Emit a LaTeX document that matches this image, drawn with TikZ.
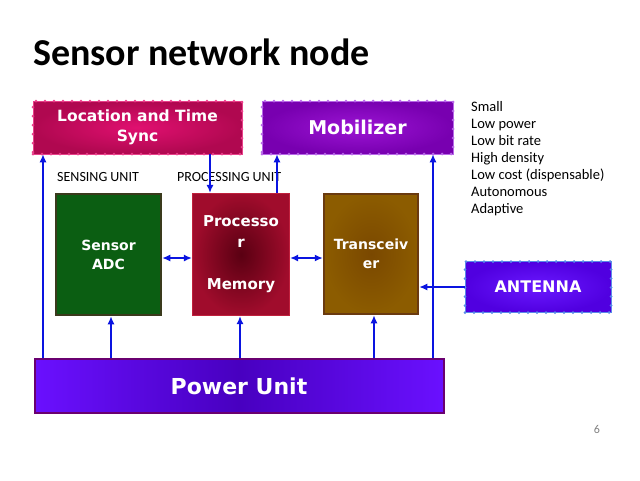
\documentclass[tikz,border=0pt]{standalone}
\usepackage{fontspec}
\setmainfont{Carlito}
\newfontfamily\boxfont{DejaVu Sans}
\usetikzlibrary{arrows.meta,calc,positioning}

\definecolor{locout}{HTML}{B00850}
\definecolor{locin}{HTML}{E01070}
\definecolor{locdot}{HTML}{E8408A}
\definecolor{mobout}{HTML}{7800B0}
\definecolor{mobin}{HTML}{9C14D4}
\definecolor{mobdot}{HTML}{B868E8}
\definecolor{sensfill}{HTML}{0B5E12}
\definecolor{sensrim}{HTML}{3A3A1C}
\definecolor{procout}{HTML}{A00C2C}
\definecolor{procin}{HTML}{5A0012}
\definecolor{procrim}{HTML}{C0203C}
\definecolor{trout}{HTML}{8C5C00}
\definecolor{trin}{HTML}{7A4800}
\definecolor{trrim}{HTML}{6A3A10}
\definecolor{antout}{HTML}{5000E0}
\definecolor{antin}{HTML}{6A18FF}
\definecolor{antdot}{HTML}{5A8AE8}
\definecolor{pwrside}{HTML}{6A10FF}
\definecolor{pwrmid}{HTML}{4800C0}
\definecolor{pwrrim}{HTML}{6A0070}
\definecolor{wire}{HTML}{0A14E0}

\newcommand{\bxf}[2]{\boxfont\bfseries\fontsize{#1}{#2}\selectfont}

\begin{document}
\begin{tikzpicture}[x=1pt,y=-1pt,>={Latex[length=8pt,width=7pt]},
    blk/.style={text=white, align=center, inner sep=0pt},
    dotbox/.style={blk, draw=#1, line width=0.6pt,
      postaction={draw=#1, line width=3pt, line cap=round, dash pattern=on 0pt off 9pt}},
    link/.style={wire, line width=1.4pt}]
        \useasboundingbox (0,0) rectangle (640,480);
        % Judul dan daftar sifat
        \node[anchor=base west, inner sep=0pt, font=\bfseries\fontsize{38}{44}\selectfont] (title) at (33,65) {Sensor network node};
        \node[anchor=north west, align=left, inner sep=0pt, font=\fontsize{14.5}{17}\selectfont] (feat) at (471,101.5)
          {Small\\Low power\\Low bit rate\\High density\\Low cost (dispensable)\\Autonomous\\Adaptive};
        \node[anchor=base west, inner sep=0pt, font=\fontsize{14}{16}\selectfont] (sensing) at (57,181.5) {SENSING UNIT};
        \node[anchor=base west, inner sep=0pt, font=\fontsize{14}{16}\selectfont] (processing) at (177,181.5) {PROCESSING UNIT};
        \node[gray, font=\fontsize{12}{14}\selectfont] (pg) at (597,429) {6};
        % Blok atas
        \node[dotbox=locdot, inner color=locin, outer color=locout, minimum width=209pt, minimum height=53pt,
          font=\bxf{15.5}{20}] (loc) at (137.5,127.5) {Location and Time\\Sync};
        \node[dotbox=mobdot, inner color=mobin, outer color=mobout, minimum width=191pt, minimum height=53pt,
          font=\bxf{19}{22}] (mob) at (357.5,127.5) {Mobilizer};
        % Blok tengah
        \node[blk, draw=sensrim, line width=2.5pt, fill=sensfill, minimum width=105pt, minimum height=121pt,
          font=\bxf{14}{19}] (sensor) at (108.5,254.5) {Sensor\\ADC};
        \node[blk, draw=procrim, line width=1.2pt, inner color=procin, outer color=procout, minimum width=97pt, minimum height=122pt,
          font=\bxf{15}{21}] (proc) at (241,254.5) {Processo\\r\\[21pt]Memory};
        \node[blk, draw=trrim, line width=2.5pt, inner color=trin, outer color=trout, minimum width=94pt, minimum height=120pt,
          font=\bxf{14}{19}] (trans) at (371,254) {Transceiv\\er};
        \node[dotbox=antdot, inner color=antin, outer color=antout, minimum width=146pt, minimum height=51pt,
          font=\bxf{16}{20}] (ant) at (538,287) {ANTENNA};
        % Catu daya
        \node[blk, draw=pwrrim, line width=2pt, left color=pwrside, right color=pwrside, middle color=pwrmid,
          minimum width=409pt, minimum height=54pt, font=\bxf{22}{24}] (power) at (239,386) {Power Unit};
        % Jalur sinyal
        \coordinate (lx) at (43,0);
        \coordinate (rx) at (433,0);
        \coordinate (my) at (0,258);
        \draw[link,->] (power.north -| lx) -- (loc.south -| lx);
        \draw[link,->] (power.north -| rx) -- (mob.south -| rx);
        \draw[link,->] (loc.south -| 210,0) -- (proc.north -| 210,0);
        \draw[link,->] (proc.north -| 277,0) -- (mob.south -| 277,0);
        \draw[link,<->] (sensor.east |- my) -- (proc.west |- my);
        \draw[link,<->] (proc.east |- my) -- (trans.west |- my);
        \draw[link,->] (ant.west) -- (trans.east |- ant.west);
        \draw[link,->] (power.north -| 111,0) -- (sensor.south -| 111,0);
        \draw[link,->] (power.north -| 240,0) -- (proc.south -| 240,0);
        \draw[link,->] (power.north -| 374,0) -- (trans.south -| 374,0);
      \end{tikzpicture}
\end{document}
